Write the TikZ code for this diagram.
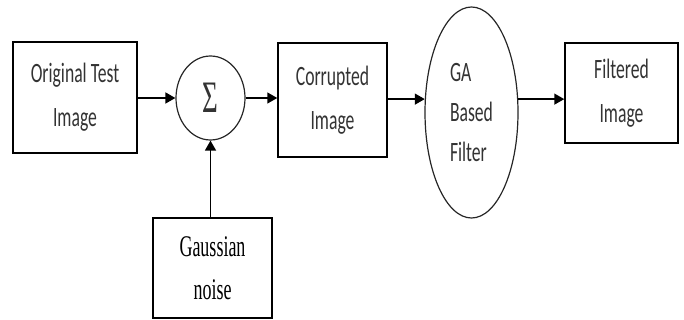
\documentclass[tikz,border=0pt]{standalone}
\usepackage{fontspec}
\usetikzlibrary{arrows.meta,shapes.geometric}
\newfontfamily\calibfont[FakeStretch=0.63]{Carlito}
\newfontfamily\timesfont[FakeStretch=0.6]{Liberation Serif}

\begin{document}
\begin{tikzpicture}[x=1pt,y=-1pt,>={Triangle[length=10pt,width=11pt]},line width=1.5pt]
  \tikzstyle{block}=[draw,rectangle,inner sep=0pt,align=center,text=black!80,
                     font=\calibfont\fontsize{28}{44}\selectfont]
  \tikzstyle{oval}=[draw=black!85,ellipse,inner sep=0pt,line width=1.2pt,text=black!80]
  \useasboundingbox (0,0) rectangle (684,320);

  \node[block, minimum width=124pt, minimum height=111pt] (orig)  at (75,97.5)  {Original Test\\Image};
  \node[oval, minimum width=69pt, minimum height=84pt, font=\timesfont\fontsize{45}{45}\selectfont] (sum) at (210.5,98) {Σ};
  \node[block, minimum width=119pt, minimum height=100pt, text=black, font=\timesfont\fontsize{30}{43}\selectfont] (noise) at (212.5,268) {Gaussian\\noise};
  \node[block, minimum width=109pt, minimum height=114pt] (corr)  at (332.5,100) {Corrupted\\Image};
  \node[oval, minimum width=93pt, minimum height=211pt, align=left, font=\calibfont\fontsize{28}{40}\selectfont] (ga) at (471.5,112.5) {GA\\Based\\Filter};
  \node[block, minimum width=113pt, minimum height=100pt] (out)   at (621.5,93)  {Filtered\\Image};

  % signal path
  \draw[->] (orig.east |- sum.west) -- (sum.west);
  \draw[->] (sum.east) -- (corr.west |- sum.east);
  \draw[->] (corr.east |- ga.164) -- (ga.164);
  \draw[->] (ga.16) -- (out.west |- ga.16);
  \draw[->] (noise.north -| sum.south) -- (sum.south);
\end{tikzpicture}
\end{document}
